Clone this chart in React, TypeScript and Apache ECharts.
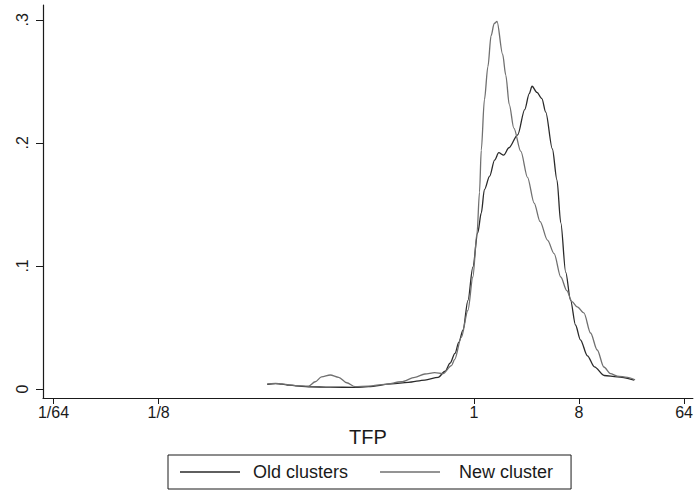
import React, { useEffect, useRef } from 'react';
import * as echarts from 'echarts';

// x positions are log2 units of the drawn scale (1 -> 0, 8 -> 3)
const xTickPositions = [-12, -9, 0, 3, 6];
const xTickLabels = ['1/64', '1/8', '1', '8', '64'];
const yTickValues = [0, 0.1, 0.2, 0.3];
const yTickLabels = ['0', '.1', '.2', '.3'];

const seriesNames = ['Old clusters', 'New cluster'];

const oldX = [
  -5.9, -5.66, -5.48, -5.28, -5.09, -4.72, -4.1, -3.39, -3.01, -2.35, -1.875, -1.4, -1.02,
  -0.82, -0.68, -0.54, -0.43, -0.31, -0.17, -0.03, 0.11, 0.21, 0.3, 0.45, 0.59, 0.71, 0.85,
  1.0, 1.25, 1.45, 1.58, 1.66, 1.8, 1.94, 2.05, 2.24, 2.37, 2.48, 2.62, 2.76, 2.9, 3.04,
  3.24, 3.44, 3.72, 4.09, 4.57,
];
const oldDensity = [
  0.0038, 0.0044, 0.004, 0.0032, 0.0026, 0.0018, 0.0015, 0.0014, 0.0019, 0.0041, 0.0054, 0.0073, 0.0095,
  0.0145, 0.021, 0.029, 0.038, 0.048, 0.072, 0.099, 0.127, 0.143, 0.162, 0.173, 0.186, 0.192, 0.19,
  0.196, 0.2065, 0.227, 0.24, 0.246, 0.241, 0.236, 0.225, 0.195, 0.17, 0.135, 0.095, 0.072, 0.052, 0.04,
  0.027, 0.018, 0.011, 0.0098, 0.0073,
];

const newX = [
  -5.9, -5.66, -5.48, -5.28, -5.09, -4.72, -4.53, -4.35, -4.1, -3.86, -3.63, -3.39, -3.01, -2.54,
  -2.07, -1.685, -1.4, -1.12, -0.88, -0.64, -0.55, -0.36, -0.17, -0.03, 0.09, 0.16, 0.21, 0.3, 0.4,
  0.49, 0.58, 0.66, 0.82, 0.91, 1.01, 1.14, 1.34, 1.53, 1.72, 1.89, 2.1, 2.29, 2.48, 2.65, 2.8,
  2.95, 3.14, 3.33, 3.52, 3.71, 3.9, 4.09, 4.38, 4.6,
];
const newDensity = [
  0.0042, 0.0046, 0.0041, 0.0034, 0.0028, 0.0024, 0.0059, 0.0098, 0.0114, 0.0095, 0.0051, 0.0019, 0.0024, 0.0038,
  0.0059, 0.0095, 0.0122, 0.0133, 0.0125, 0.019, 0.024, 0.042, 0.064, 0.091, 0.127, 0.16, 0.194, 0.235, 0.262,
  0.287, 0.297, 0.2986, 0.272, 0.255, 0.231, 0.212, 0.193, 0.172, 0.151, 0.136, 0.121, 0.11, 0.091, 0.08, 0.071,
  0.0667, 0.0618, 0.0455, 0.0317, 0.0179, 0.0125, 0.0105, 0.0095, 0.0075,
];

const FONT = '"Liberation Sans", Arial, Helvetica, sans-serif';
const INK = '#1a1a1a';
const OLD_COLOR = '#2a2a2a';
const NEW_COLOR = '#707070';

export default function App() {
  const ref = useRef<HTMLDivElement>(null);
  useEffect(() => {
    if (!ref.current) return;
    const chart = echarts.init(ref.current, null, { renderer: 'svg' });
    const xLabelFor = (v: number) => {
      const i = xTickPositions.indexOf(v);
      return i >= 0 ? xTickLabels[i] : '';
    };
    const yLabelFor = (v: number) => {
      const i = yTickValues.indexOf(v);
      return i >= 0 ? yTickLabels[i] : '';
    };
    chart.setOption({
      animation: false,
      backgroundColor: '#ffffff',
      grid: { left: 43, right: 0, top: 5, bottom: 99 },
      xAxis: {
        type: 'value',
        min: -12.3,
        max: 6.25,
        name: 'TFP',
        nameLocation: 'middle',
        nameGap: 29,
        nameTextStyle: { fontFamily: FONT, fontSize: 20, color: INK },
        axisLine: { onZero: false, lineStyle: { color: INK, width: 1.2 } },
        axisTick: { show: true, customValues: xTickPositions, length: 6, lineStyle: { color: INK, width: 1 } },
        axisLabel: {
          customValues: xTickPositions,
          formatter: (v: number) => xLabelFor(v),
          margin: 6,
          fontFamily: FONT,
          fontSize: 16,
          color: INK,
        },
        splitLine: { show: false },
      },
      yAxis: {
        type: 'value',
        min: -0.0073,
        max: 0.312,
        axisLine: { show: true, onZero: false, lineStyle: { color: INK, width: 1.2 } },
        axisTick: { show: true, customValues: yTickValues, length: 7, lineStyle: { color: INK, width: 1 } },
        axisLabel: {
          customValues: yTickValues,
          formatter: (v: number) => yLabelFor(v),
          rotate: 90,
          margin: 13,
          fontFamily: FONT,
          fontSize: 16,
          color: INK,
        },
        splitLine: { show: false },
      },
      legend: {
        data: [
          { name: seriesNames[0], textStyle: { padding: [0, 0, 0, 8] } },
          { name: seriesNames[1], textStyle: { padding: [0, 0, 0, 14] } },
        ],
        left: 168,
        top: 455,
        orient: 'horizontal',
        icon: 'rect',
        itemWidth: 60,
        itemHeight: 1.3,
        itemGap: 32,
        padding: [8, 18, 8, 12],
        borderColor: INK,
        borderWidth: 1,
        textStyle: { fontFamily: FONT, fontSize: 18, color: INK },
      },
      series: [
        {
          name: seriesNames[0],
          type: 'line',
          data: oldX.map((x, i) => [x, oldDensity[i]]),
          symbol: 'none',
          showSymbol: false,
          smooth: 0.3,
          smoothMonotone: 'x',
          lineStyle: { color: OLD_COLOR, width: 1.3 },
          itemStyle: { color: OLD_COLOR },
        },
        {
          name: seriesNames[1],
          type: 'line',
          data: newX.map((x, i) => [x, newDensity[i]]),
          symbol: 'none',
          showSymbol: false,
          smooth: 0.3,
          smoothMonotone: 'x',
          lineStyle: { color: NEW_COLOR, width: 1.3 },
          itemStyle: { color: NEW_COLOR },
        },
      ],
    });
    return () => chart.dispose();
  }, []);
  return (
    <div
      ref={ref}
      style={{ position: 'fixed', left: 0, top: 0, width: 696, height: 497, background: '#fff' }}
    />
  );
}
